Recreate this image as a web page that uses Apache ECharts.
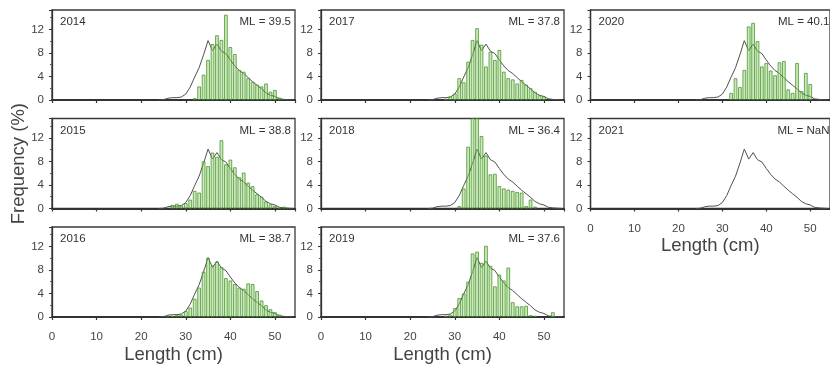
<!DOCTYPE html>
<html><head><meta charset="utf-8">
<script src="https://cdn.jsdelivr.net/npm/echarts@6/dist/echarts.min.js"></script>
<style>html,body{margin:0;padding:0;background:#fff}#c{width:830px;height:367px}</style>
</head><body><div id="c"></div>
<script>
// Length bins (cm) for the yearly histograms
const LENGTHS = [26,27,28,29,30,31,32,33,34,35,36,37,38,39,40,41,42,43,44,45,46,47,48,49,50,51,52];
// Yearly frequency (%) per bin
const F2014 = [0,0,0,0,0,0,0.3,2.3,4.3,6.8,9.5,11.0,10.2,14.5,9.0,7.8,5.1,4.8,3.7,3.1,2.6,2.3,2.8,1.4,1.7,0.4,0];
const F2015 = [0,0.6,0.8,0.5,0.9,1.5,3.0,2.7,8.0,7.2,9.5,8.8,11.6,7.5,8.3,7.0,5.3,6.1,4.4,3.8,2.4,2.0,1.2,0.7,0.4,0.1,0.3];
const F2016 = [0.1,0.2,0.3,0.4,1.0,1.6,3.1,5.0,7.7,10.0,8.8,9.4,8.5,6.6,6.2,5.6,5.0,4.8,5.7,5.6,4.4,2.8,2.0,1.3,0.8,0.4,0];
const F2017 = [0,0,0.2,0.6,1.1,3.7,3.0,6.5,10.2,12.2,9.4,5.7,8.2,6.8,8.5,4.8,3.7,3.5,2.8,3.4,2.6,2.0,1.4,0.8,0.6,0,0];
const F2018 = [0,0,0,0,0,0.4,3.4,10.5,17.0,16.0,12.3,9.0,5.8,5.9,3.8,3.4,3.2,3.0,2.8,2.7,0.4,1.5,0.3,0,0,0,0];
const F2019 = [0,0,0.2,0.4,1.5,3.2,4.0,6.0,10.8,11.1,9.2,12.1,8.7,5.2,7.2,6.2,8.4,2.5,1.8,1.8,1.9,0.3,0.2,0,0,0,0.8];
const F2020 = [0,0,0,0,0,0,1.2,3.7,2.2,5.1,12.5,13.1,10.0,5.7,6.3,5.0,4.2,6.4,6.6,1.8,1.2,6.3,1.5,4.6,2.7,0,0];
const F2021 = [];
// Overall (all years) length distribution line
const OVERALL_X = [24,25,26,27,28,29,30,31,32,33,34,35,36,37,38,39,40,41,42,43,44,45,46,47,48,49,50,51,52,53,54];
const OVERALL = [0,0.05,0.3,0.4,0.4,0.5,1.0,2.2,3.9,5.5,7.7,10.1,8.4,9.5,8.3,7.9,6.8,5.8,5.0,4.5,3.8,3.1,2.5,1.9,1.2,0.8,0.6,0.2,0.1,0.05,0];
const YEARS = ['2014','2015','2016','2017','2018','2019','2020','2021'];
const ML = ['39.5','38.8','38.7','37.8','36.4','37.6','40.1','NaN'];
const FREQS = [F2014,F2015,F2016,F2017,F2018,F2019,F2020,F2021];

const FONT = '"Liberation Sans", Arial, sans-serif';
const COL_LEFT = [52, 321, 590.5];
const ROW_TOP = [10, 118.5, 227];
const W = 243, H = 90;
const PANEL_POS = [[0,0],[0,1],[0,2],[1,0],[1,1],[1,2],[2,0],[2,1]];
const SHOW_X = [false,false,true,false,false,true,false,true];

const grids=[], xAxes=[], yAxes=[], series=[], graphics=[];
YEARS.forEach((yr,i)=>{
  const [c,r] = PANEL_POS[i];
  const left = COL_LEFT[c], top = ROW_TOP[r];
  grids.push({left:left, top:top, width:W, height:H, show:true, borderColor:'#3a3a3a', borderWidth:1.3, containLabel:false});
  xAxes.push({type:'value', gridIndex:i, min:0, max:54.5, interval:10,
    axisLine:{show:true, onZero:false, lineStyle:{color:'#333', width:1.8}},
    axisTick:{show:true, inside:false, length:3, lineStyle:{color:'#333', width:1.2}},
    axisLabel:{show:SHOW_X[i], fontSize:11.5, color:'#444', margin:14, showMaxLabel:false, fontFamily:FONT},
    splitLine:{show:false},
    name: SHOW_X[i] ? 'Length (cm)' : '', nameLocation:'middle', nameGap:28,
    nameTextStyle:{fontSize:18.5, color:'#444', fontFamily:FONT}
  });
  yAxes.push({type:'value', gridIndex:i, min:0, max:15.3, interval:4,
    axisLine:{show:true, lineStyle:{color:'#333', width:1.3}},
    axisTick:{show:true, inside:false, length:3, lineStyle:{color:'#333', width:1}},
    minorTick:{show:true, splitNumber:2, length:2, lineStyle:{color:'#555', width:1}},
    axisLabel:{fontSize:11.5, color:'#444', margin:8, showMaxLabel:false, fontFamily:FONT},
    splitLine:{show:false}
  });
  series.push({type:'line', xAxisIndex:i, yAxisIndex:i, data:OVERALL_X.map((x,k)=>[x, OVERALL[k]]),
    symbol:'none', lineStyle:{color:'#505050', width:1}, z:2, silent:true});
  const f = FREQS[i];
  if (f.length) {
    series.push({type:'bar', xAxisIndex:i, yAxisIndex:i, clip:true,
      data: LENGTHS.map((x,k)=>[x, f[k]]).filter(d=>d[1]>0),
      barWidth:3.6,
      itemStyle:{color:'rgba(150,215,110,0.5)', borderColor:'rgba(60,140,35,0.9)', borderWidth:0.8},
      z:3, silent:true});
  }
  graphics.push({type:'text', left:left+8, top:top+6, style:{text:yr, font:'11.5px '+FONT, fill:'#333'}});
  graphics.push({type:'text', right:830-(left+W-4), top:top+6, style:{text:'ML = '+ML[i], font:'11.5px '+FONT, fill:'#333'}});
});
graphics.push({type:'text', left:9, top:103, rotation:Math.PI/2,
  style:{text:'Frequency (%)', font:'18.5px '+FONT, fill:'#444'}});

const chart = echarts.init(document.getElementById('c'), null, {renderer:'canvas'});
chart.setOption({animation:false, backgroundColor:'#fff', grid:grids, xAxis:xAxes, yAxis:yAxes, series:series, graphic:graphics});
</script>
</body></html>
